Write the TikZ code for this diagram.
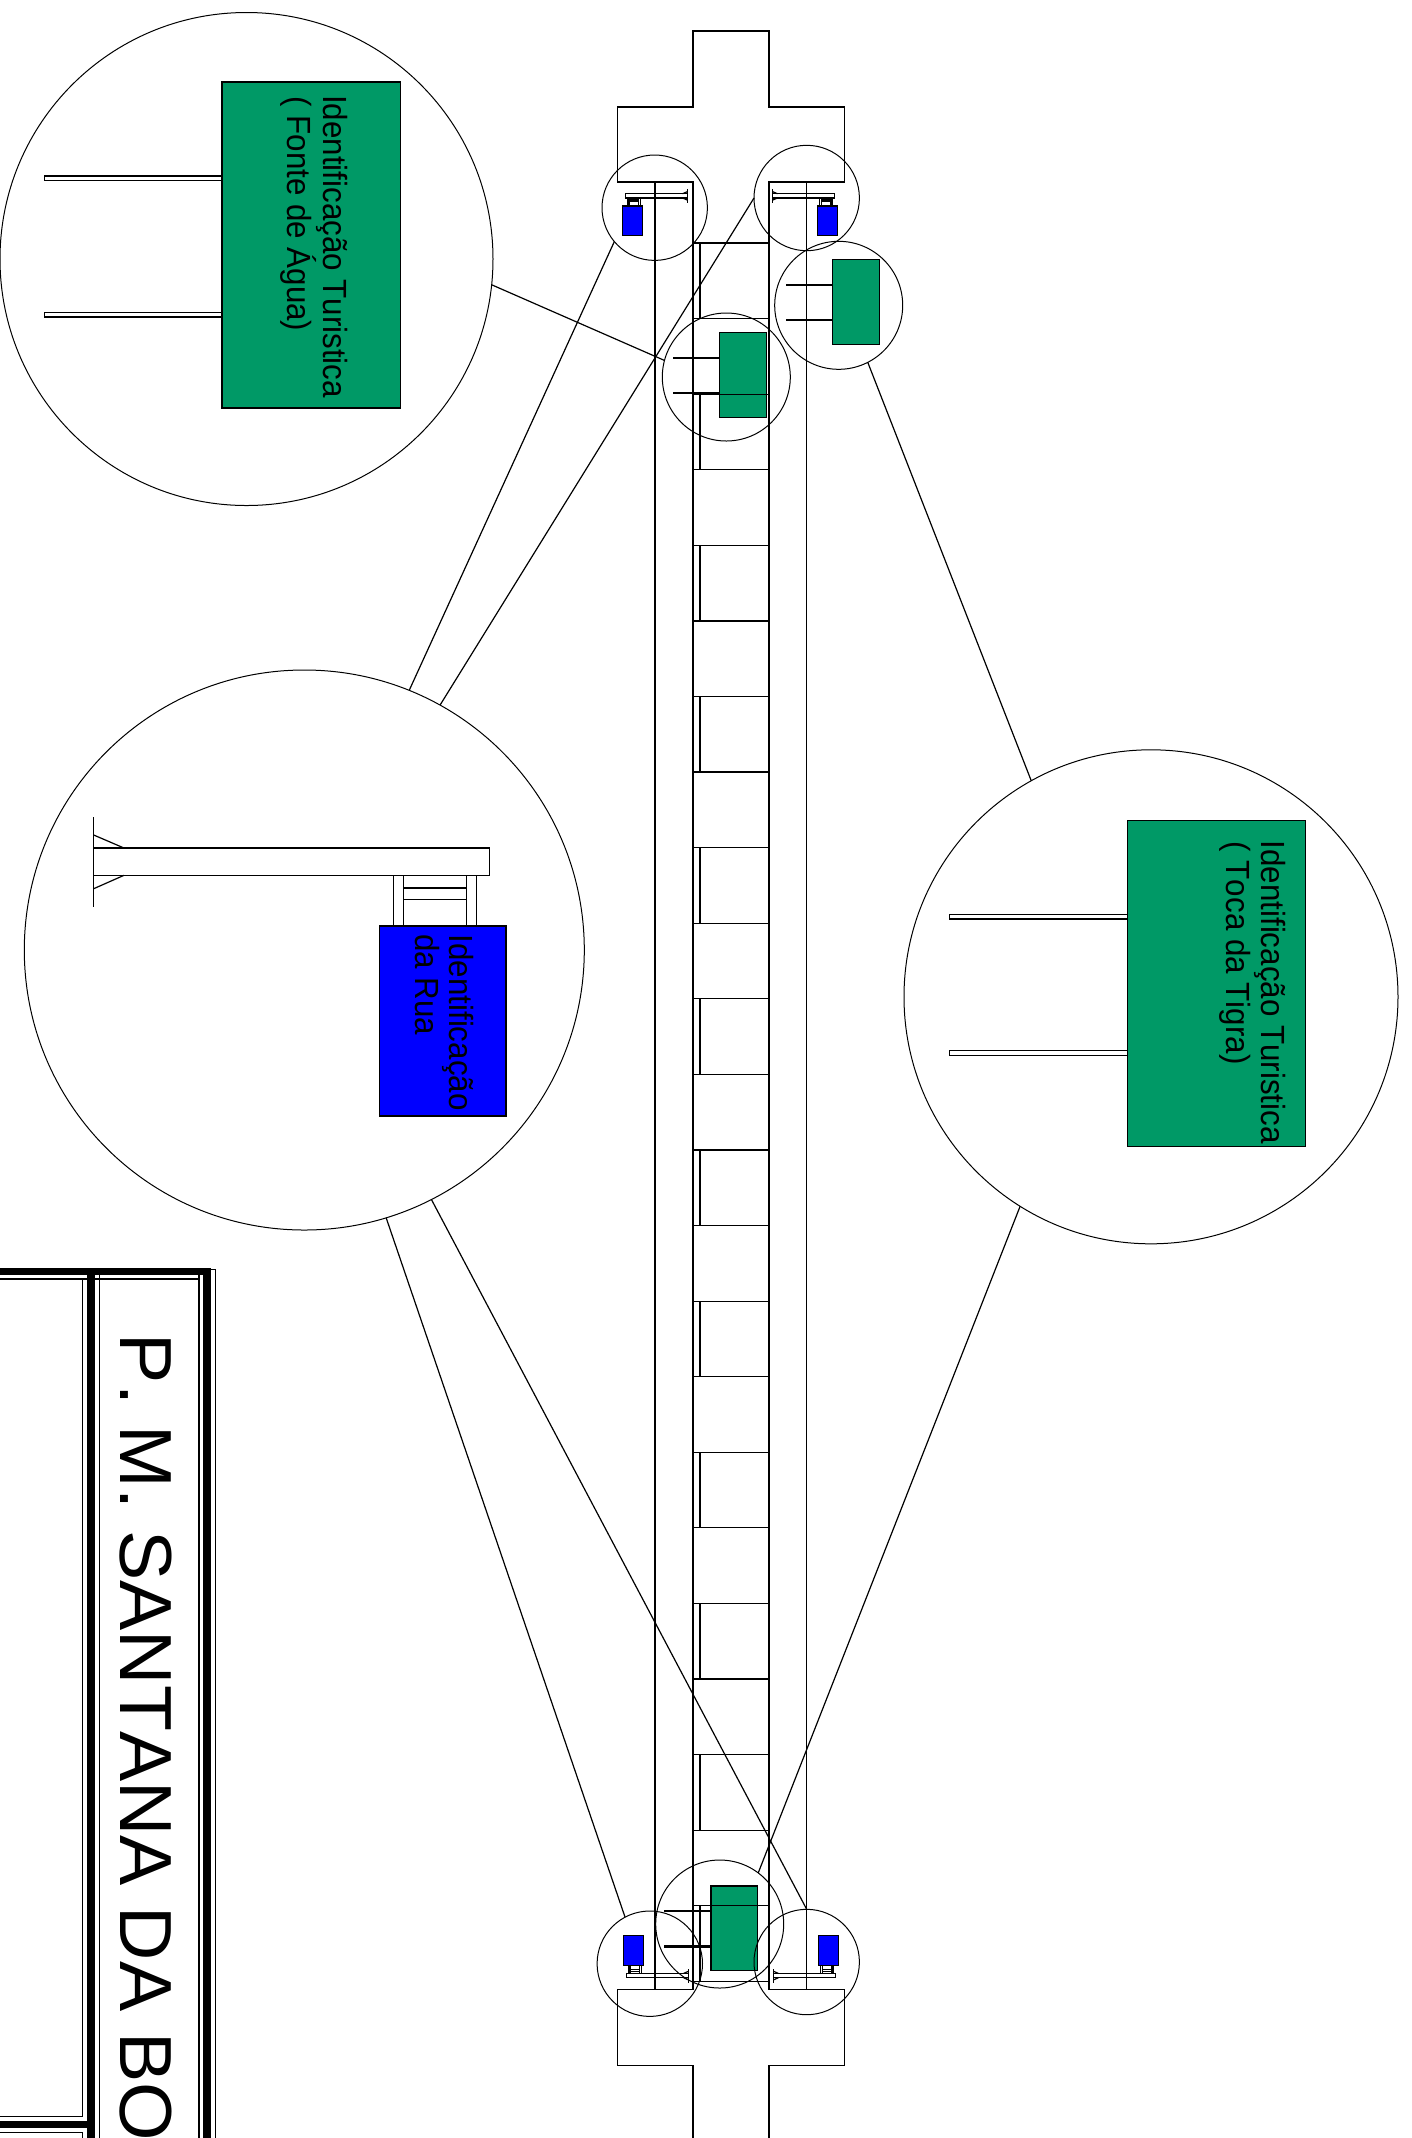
\documentclass[tikz,border=0pt]{standalone}
\usepackage{fontspec}
\setmainfont{Liberation Sans}
\newfontfamily\signfamily[FakeStretch=0.935,Kerning=Off]{Liberation Sans}
\newfontfamily\titlefamily[FakeStretch=1.02,Kerning=Off]{Liberation Sans}
\usetikzlibrary{positioning,shapes}
\definecolor{signgreen}{RGB}{0,153,102}
\definecolor{signblue}{RGB}{0,0,255}
\newcommand{\turismosign}{
\draw[thinline] (-177.5,94) rectangle (0,98.7);
\draw[thinline] (-177.5,230.5) rectangle (0,235);
\fill[signgreen,thinline] (0,0) rectangle (178.5,326);
}
\newcommand{\ruasign}{
\draw[thinline] (393.3,875.3) -- (393.3,926);
\draw[thinline] (403.7,875.3) -- (403.7,926);
\draw[thinline] (466.3,875.3) -- (466.3,926);
\draw[thinline] (476.3,875.3) -- (476.3,926);
\draw[thinline] (403.7,888) -- (466.3,888);
\draw[thinline] (403.7,899.7) -- (466.3,899.7);
\draw[thinline] (93.7,817.3) -- (93.7,906.7);
\draw[thinline] (93.7,835) -- (124,848);
\draw[thinline] (93.7,888.7) -- (124,875.3);
\draw[thinline] (93.7,848) rectangle (489.7,875.3);
\fill[signblue,thinline] (379.3,926) rectangle (506,1116);
}
\begin{document}
\begin{tikzpicture}[x=0.5pt,y=-0.5pt,
  thinline/.style = {draw=black, line width=0.6pt},
  thickline/.style = {draw=black, line width=3.65pt},
  lens/.style = {circle, draw=black, line width=0.5pt, inner sep=0pt, outer sep=0pt, minimum size=#1},
  signtext/.style = {rotate=-90, anchor=base west, inner sep=0pt, font=\signfamily\fontsize{16.75}{20}\selectfont},
  titletext/.style = {rotate=-90, anchor=base west, inner sep=0pt, font=\titlefamily\fontsize{36.9}{40}\selectfont}]
\useasboundingbox (0,0) rectangle (1412,2138);

\begin{scope}[shift={(222,82)}]
\turismosign
\end{scope}
\begin{scope}[shift={(1127.3,820.3)}]
\turismosign
\end{scope}
\begin{scope}[shift={(832.7,259.7)},scale=.26]
\turismosign
\end{scope}
\begin{scope}[shift={(719.7,332.7)},scale=.26]
\turismosign
\end{scope}
\begin{scope}[shift={(711,1886)},scale=.26]
\turismosign
\end{scope}

\ruasign
\begin{scope}[shift={(701.97,60.9)},xscale=-.1566,yscale=.1566]
\ruasign
\end{scope}
\begin{scope}[shift={(758.03,60.9)},scale=.1566]
\ruasign
\end{scope}
\begin{scope}[shift={(702.97,2110.5)},xscale=-.1566,yscale=-.1566]
\ruasign
\end{scope}
\begin{scope}[shift={(759.03,2110.5)},xscale=.1566,yscale=-.1566]
\ruasign
\end{scope}

\draw[thinline] (693,2138) -- (693,2065.7) -- (617.5,2065.7) -- (617.5,1989.7) -- (693,1989.7)
  -- (693,182) -- (617.5,182) -- (617.5,107) -- (693,107) -- (693,31) -- (769,31) -- (769,107)
  -- (844.7,107) -- (844.7,182) -- (769,182) -- (769,1989.7) -- (844.7,1989.7) -- (844.7,2065.7)
  -- (769,2065.7) -- (769,2138);
\draw[thinline] (655,182) -- (655,1989.7);
\draw[thinline] (806.7,182) -- (806.7,1989.7);
\foreach \k in {0,...,23} {
  \draw[thinline] (693,243+75.58*\k) -- (769,243+75.58*\k);
}
\foreach \k in {0,2,...,22} {
  \draw[thinline] (700,243+75.58*\k) -- (700,243+75.58*\k+75.58);
}

\node[lens=246.5pt] (lensfonte) at (246.5,259) {};
\node[lens=280pt] (lensrua) at (304.3,950) {};
\node[lens=247pt] (lenstoca) at (1151,996.8) {};
\node[lens=52.7pt] (ruaTL) at (654.7,207.7) {};
\node[lens=52.7pt] (ruaTR) at (806.7,198) {};
\node[lens=52.7pt] (ruaBL) at (649.8,1963.7) {};
\node[lens=52.7pt] (ruaBR) at (806.7,1962) {};
\node[lens=64pt] (greenfonte) at (726.3,377) {};
\node[lens=64pt] (greentoca) at (838.7,305.3) {};
\node[lens=64pt] (greenbottom) at (719.7,1924) {};

\draw[thinline] (ruaTL.220.2) -- (lensrua.68.4);
\draw[thinline] (ruaTR.180.8) -- (lensrua.61.8);
\draw[thinline] (ruaBL.118.4) -- (lensrua.287.4);
\draw[thinline] (ruaBR.90) -- (lensrua.297);
\draw[thinline] (lensfonte.354.2) -- (greenfonte.165.3);
\draw[thinline] (greentoca.297) -- (lenstoca.119.4);
\draw[thinline] (greenbottom.53.8) -- (lenstoca.238.6);

\node[signtext] (fonteA) at (323,94.7) {Identificação Turistica};
\node[signtext] (fonteB) at (287,96) {( Fonte de Água)};
\node[signtext] (tocaA) at (1261,840.3) {Identificação Turistica};
\node[signtext] (tocaB) at (1226,841.3) {( Toca da Tigra)};
\node[signtext] (ruaA) at (449.3,934.3) {Identificação};
\node[signtext] (ruaB) at (415,933.7) {da Rua};

\draw[thickline] (0,1271.3) -- (207,1271.3) -- (207,2138);
\draw[thickline] (91,1271.3) -- (91,2138);
\draw[thickline] (0,2124.7) -- (91,2124.7);
\draw[thinline] (0,1279) -- (199,1279);
\draw[thinline] (82.7,1279) -- (82.7,2116.7) -- (0,2116.7);
\draw[thinline] (0,2132.7) -- (82.7,2132.7) -- (82.7,2138);
\draw[thinline] (99.3,1275) -- (99.3,2138);
\draw[thinline] (199,1275) -- (199,2138);
\draw[thinline] (210.7,1269.3) -- (215.3,1269.3) -- (215.3,2138);

\node[titletext] (title) at (120.7,1333.5) {P. M. SANTANA DA BO};
\end{tikzpicture}
\end{document}
